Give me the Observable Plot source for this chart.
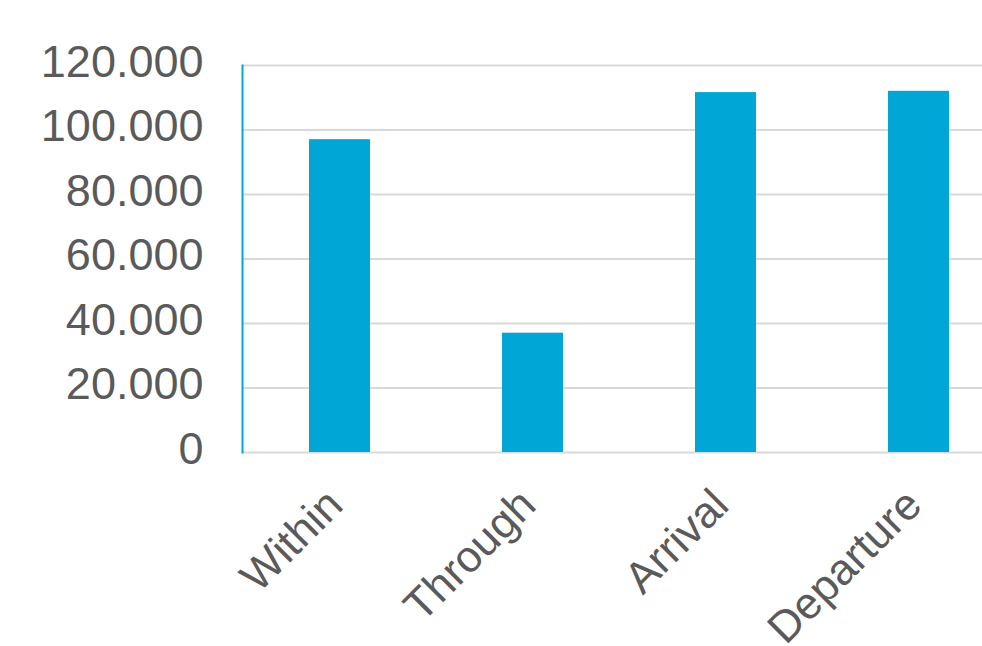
<!DOCTYPE html>
<html>
<head>
<meta charset="utf-8">
<script src="https://cdn.jsdelivr.net/npm/d3@7"></script>
<script src="https://cdn.jsdelivr.net/npm/@observablehq/plot@0.6"></script>
<style>
  html, body { margin: 0; padding: 0; background: #fff; }
  #chart { width: 982px; height: 646px; }
</style>
</head>
<body>
<div id="chart"></div>
<script>
const categories = ["Within", "Through", "Arrival", "Departure"];
const values = [97000, 37000, 111600, 112000];
const yTicks = [0, 20000, 40000, 60000, 80000, 100000, 120000];

const data = categories.map((c, i) => ({category: c, value: values[i]}));
const fmt = d3.formatLocale({decimal: ",", thousands: ".", grouping: [3], currency: ["", ""]}).format(",");
const font = "'Liberation Sans', Arial, Helvetica, sans-serif";
const textColor = "#5a5a5a";

const chart = Plot.plot({
  width: 982,
  height: 646,
  marginLeft: 242,
  marginRight: 0,
  marginTop: 65,
  marginBottom: 194,
  style: {fontFamily: font, background: "#fff", overflow: "visible"},
  x: {type: "band", domain: categories, range: [242.5, 1015.8], paddingInner: 0.685, paddingOuter: 0.3425, axis: null},
  y: {domain: [0, 120000], axis: null},
  marks: [
    Plot.gridY(yTicks, {stroke: "#d9d9d9", strokeOpacity: 1, strokeWidth: 2}),
    Plot.barY(data, {x: "category", y: "value", fill: "#00a7d6"}),
    Plot.frame({anchor: "left", stroke: "#00a7d6", strokeWidth: 2}),
    Plot.axisY(yTicks, {tickSize: 0, tickPadding: 39, tickFormat: fmt, fontSize: 45, fill: textColor, dy: -3, label: null}),
    Plot.text(categories, {x: d => d, y: () => 0, text: d => d, rotate: -45, textAnchor: "end", lineAnchor: "bottom", dx: 5, dy: 55, fontSize: 44, fill: textColor})
  ]
});
document.getElementById("chart").appendChild(chart);
</script>
</body>
</html>
